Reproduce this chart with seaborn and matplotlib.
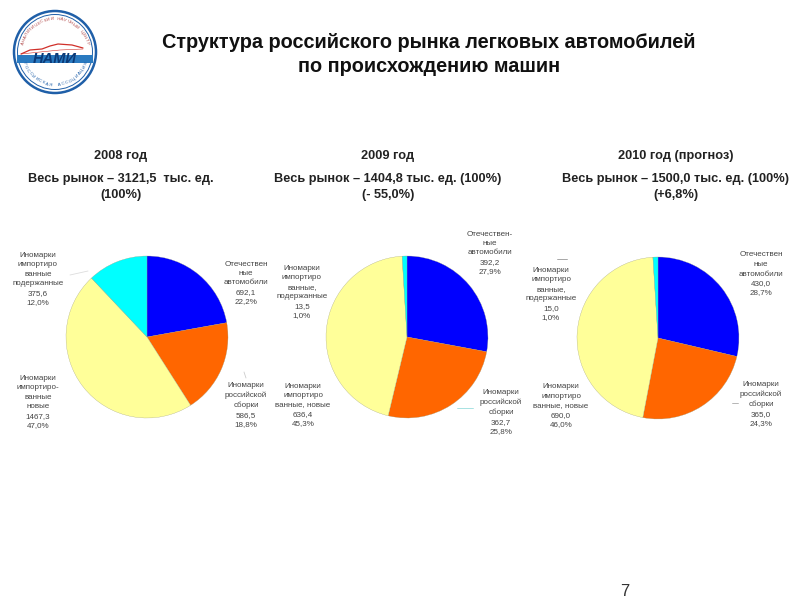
import matplotlib
matplotlib.use("Agg")
import matplotlib.pyplot as plt
from matplotlib.lines import Line2D
from matplotlib.patches import Circle, Rectangle
import numpy as np
import seaborn as sns

sns.set_theme(style="white")
plt.rcParams['font.family'] = ['Liberation Sans', 'DejaVu Sans']

# data
years = ['2008 год', '2009 год', '2010 год (прогноз)']
totals = ['Весь рынок – 3121,5  тыс. ед.\n(100%)',
          'Весь рынок – 1404,8 тыс. ед. (100%)\n(- 55,0%)',
          'Весь рынок – 1500,0 тыс. ед. (100%)\n(+6,8%)']
values_2008 = [692.1, 586.5, 1467.3, 375.6]
values_2009 = [392.2, 362.7, 636.4, 13.5]
values_2010 = [430.0, 365.0, 690.0, 15.0]
colors = ['#0000ff', '#ff6600', '#ffff99', '#00ffff']

labels_2008 = ['Отечествен\nные\nавтомобили\n692,1\n22,2%',
               'Иномарки\nроссийской\nсборки\n586,5\n18,8%',
               'Иномарки\nимпортиро-\nванные\nновые\n1467,3\n47,0%',
               'Иномарки\nимпортиро\nванные\nподержанные\n375,6\n12,0%']
labels_2009 = ['Отечествен-\nные\nавтомобили\n392,2\n27,9%',
               'Иномарки\nроссийской\nсборки\n362,7\n25,8%',
               'Иномарки\nимпортиро\nванные, новые\n636,4\n45,3%',
               'Иномарки\nимпортиро\nванные,\nподержанные\n13,5\n1,0%']
labels_2010 = ['Отечествен\nные\nавтомобили\n430,0\n28,7%',
               'Иномарки\nроссийской\nсборки\n365,0\n24,3%',
               'Иномарки\nимпортиро\nванные, новые\n690,0\n46,0%',
               'Иномарки\nимпортиро\nванные,\nподержанные\n15,0\n1,0%']

# pie centres, label positions and heading centres in image pixels
pies = [(147, 337, values_2008, labels_2008, [(246, 283), (246, 405), (38, 402), (38, 279)], 121),
        (407, 337, values_2009, labels_2009, [(490, 253), (501, 412), (303, 405), (302, 292)], 388),
        (658, 338, values_2010, labels_2010, [(761, 274), (761, 404), (561, 406), (551, 294)], 676)]

fig = plt.figure(figsize=(8, 6), dpi=100, facecolor='white')


def px(x, y):
    return x / 800, 1 - y / 600


fig.text(*px(429, 54.5), 'Структура российского рынка легковых автомобилей\nпо происхождению машин',
         ha='center', va='center', fontsize=14.3, fontweight='bold', color='#111111', linespacing=1.36)

for (cx, cy, vals, labs, pos, head_x), year, total in zip(pies, years, totals):
    r = 81
    ax = fig.add_axes([(cx - r) / 800, 1 - (cy + r) / 600, 2 * r / 800, 2 * r / 600])
    ax.pie(vals, colors=colors, startangle=90, counterclock=False, radius=1,
           wedgeprops={'linewidth': 0.2, 'edgecolor': '#999977'})
    ax.set_xlim(-1, 1)
    ax.set_ylim(-1, 1)
    for lab, (lx, ly) in zip(labs, pos):
        fig.text(*px(lx, ly), lab, ha='center', va='center', fontsize=5.8,
                 color='#444444', linespacing=1.5)
    fig.text(*px(head_x, 156), year, ha='center', va='center', fontsize=9.2,
             fontweight='bold', color='#222222')
    fig.text(*px(head_x, 187), total, ha='center', va='center', fontsize=9.2,
             fontweight='bold', color='#222222', linespacing=1.55)

# stray leader lines left in the slide
for x0, y0, x1, y1, c in [(557, 259, 567, 259, '#999999'), (732, 403, 738, 403, '#aaaaaa'),
                          (457, 408, 473, 408, '#99dddd'), (244, 372, 246, 378, '#cccccc'),
                          (70, 275, 88, 271, '#dddddd')]:
    fig.add_artist(Line2D([x0 / 800, x1 / 800], [1 - y0 / 600, 1 - y1 / 600], color=c, lw=0.6))

fig.text(*px(625, 591), '7', ha='center', va='center', fontsize=12, color='#333333')

# logo, top left
logo = fig.add_axes([0, 1 - 110 / 600, 130 / 800, 110 / 600])
logo.set_xlim(0, 130)
logo.set_ylim(110, 0)
logo.axis('off')
logo.add_patch(Circle((55, 52), 41, fc='white', ec='#1f5fa8', lw=1.8))
logo.add_patch(Circle((55, 52), 37.5, fc='white', ec='#1f5fa8', lw=0.7))
logo.add_patch(Rectangle((17, 55), 76, 8, fc='#2a7ac0', ec='none'))
logo.text(55, 59, 'НАМИ', ha='center', va='center', fontsize=10.5, fontweight='bold',
          color='#0b3a78', style='italic')
logo.plot([21, 30, 42, 50, 58, 72, 83], [54, 50, 49, 46, 44, 45, 48], color='#d0302a', lw=0.9)
logo.plot([21, 40, 60, 83], [54, 52, 50, 49], color='#d0302a', lw=0.4)


# curved text round the ring
def arc_text(s, a0, a1, radius, color, bottom=False):
    for ch, a in zip(s, np.linspace(a0, a1, len(s))):
        x = 55 + radius * np.cos(np.radians(a))
        y = 52 - radius * np.sin(np.radians(a))
        rot = a + 90 if bottom else a - 90
        logo.text(x, y, ch, ha='center', va='center', fontsize=3.2, rotation=rot, color=color)


arc_text('АНАЛИТИЧЕСКИЙ НАУЧНЫЙ ЦЕНТР', 165, 15, 33, '#b24a4a')
arc_text('РОССИЙСКАЯ АССОЦИАЦИЯ', 200, 340, 33, '#1f5fa8', bottom=True)

fig.savefig('out.png', dpi=100)
